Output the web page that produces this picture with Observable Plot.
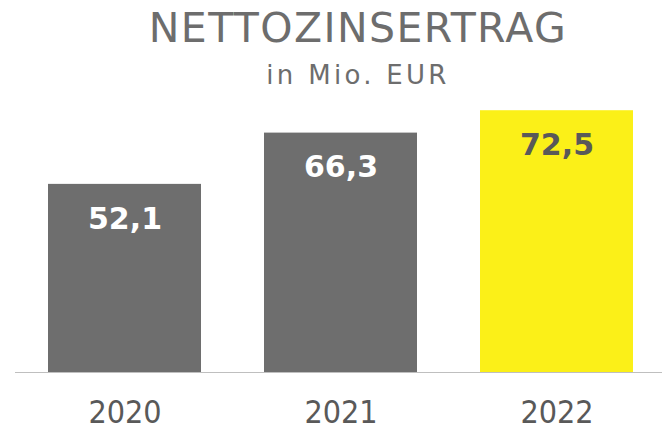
<!DOCTYPE html>
<html>
<head>
<meta charset="utf-8">
<script src="https://cdn.jsdelivr.net/npm/d3@7"></script>
<script src="https://cdn.jsdelivr.net/npm/@observablehq/plot@0.6"></script>
<style>
  html, body { margin: 0; padding: 0; background: #fff; }
  body { width: 662px; height: 426px; overflow: hidden; font-family: "DejaVu Sans", sans-serif; }
  .title { padding-top: 4px; line-height: 48px; font-size: 41px; color: #6d6d6d; text-align: center; padding-left: 54px; letter-spacing: 1.4px; white-space: nowrap; }
  .subtitle { margin-top: 8px; line-height: 30px; font-size: 26px; color: #6d6d6d; text-align: center; padding-left: 54px; letter-spacing: 3.3px; white-space: nowrap; }
  #chart svg { display: block; overflow: visible; }
</style>
</head>
<body>
<div class="title">NETTOZINSERTRAG</div>
<div class="subtitle">in Mio. EUR</div>
<div id="chart"></div>
<script>
const years = ["2020", "2021", "2022"];
const values = [52.1, 66.3, 72.5];
const barColors = ["#6e6e6e", "#6e6e6e", "#fbf018"];
const labelColors = ["#ffffff", "#ffffff", "#595959"];

const data = years.map((y, i) => ({
  year: y,
  value: values[i],
  fill: barColors[i],
  labelColor: labelColors[i],
  label: values[i].toFixed(1).replace(".", ",")
}));

const chart = Plot.plot({
  width: 662,
  height: 336,
  marginTop: 0,
  marginBottom: 54,
  marginLeft: 15,
  marginRight: 0,
  x: { domain: years, range: [16.5, 664.5], paddingInner: 0.29, paddingOuter: 0.145, label: null },
  y: { domain: [0, 78.1], axis: null },
  style: { fontFamily: "DejaVu Sans", background: "#fff", overflow: "visible" },
  marks: [
    Plot.barY(data, { x: "year", y: "value", fill: "fill" }),
    Plot.ruleY([0], { stroke: "#bfbfbf", strokeWidth: 1.2 }),
    Plot.text(data, {
      x: "year", y: "value", text: "label", fill: "labelColor",
      lineAnchor: "top", dy: 23,
      fontSize: 30, fontWeight: "bold", fontFamily: "DejaVu Sans"
    }),
    Plot.axisX({
      tickSize: 0, tickPadding: 28, fontSize: 32,
      fontFamily: "DejaVu Sans Condensed", color: "#595959", label: null
    })
  ]
});
document.getElementById("chart").appendChild(chart);
</script>
</body>
</html>
